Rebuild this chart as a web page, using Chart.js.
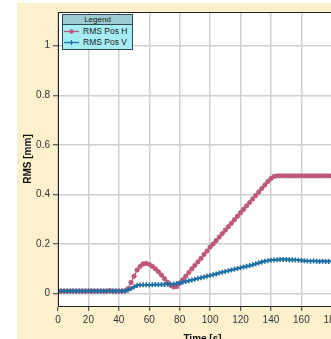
<!DOCTYPE html>
<html>
<head>
<meta charset="utf-8">
<script src="https://cdn.jsdelivr.net/npm/chart.js@4"></script>
<style>
    html, body { margin: 0; padding: 0; background: #fff; overflow: hidden; width: 331px; height: 339px; }
    #wrap { position: absolute; left: 17px; top: 3px; width: 345px; height: 345px; background: #fdf0cd; }
    .legend { position: absolute; left: 62px; top: 14px; width: 69px; border: 1px solid #2d4c52; background: #a6edf3;
        font-family: "Liberation Sans", Arial, sans-serif; color: #1a1a1a; }
    .legend .title { height: 9px; line-height: 9px; font-size: 8px; text-align: center; background: #9ccbd1; border-bottom: 1px solid #2d4c52; }
    .legend .row { height: 11px; line-height: 11px; font-size: 8.5px; white-space: nowrap; }
    .legend svg { vertical-align: middle; margin: 0 4px 0 1px; }
    .legend .rows { padding: 1px 0 1px 0; }
</style>
</head>
<body>
<div id="wrap"><canvas id="rms-chart" width="345" height="345"></canvas></div>
<div class="legend">
    <div class="title">Legend</div>
    <div class="rows">
        <div class="row"><svg width="15" height="7"><line x1="0" y1="3.5" x2="15" y2="3.5" stroke="#bd5878" stroke-width="1.3"/><circle cx="7.5" cy="3.5" r="2.2" fill="#bd5878"/></svg>RMS Pos H</div>
        <div class="row"><svg width="15" height="7"><line x1="0" y1="3.5" x2="15" y2="3.5" stroke="#1d6ea3" stroke-width="1.3"/><line x1="7.5" y1="1" x2="7.5" y2="6" stroke="#1d6ea3" stroke-width="1.3"/></svg>RMS Pos V</div>
    </div>
</div>
<script>
const times = [0, 2, 4, 6, 8, 10, 12, 14, 16, 18, 20, 22, 24, 26, 28, 30, 32, 34, 36, 38,
    40, 42, 44, 46, 48, 50, 52, 54, 56, 58, 60, 62, 64, 66, 68, 70, 72, 74, 76, 78,
    80, 82, 84, 86, 88, 90, 92, 94, 96, 98, 100, 102, 104, 106, 108, 110, 112, 114, 116, 118,
    120, 122, 124, 126, 128, 130, 132, 134, 136, 138, 140, 142, 144, 146, 148, 150, 152, 154, 156, 158,
    160, 162, 164, 166, 168, 170, 172, 174, 176, 178, 180, 182, 184, 186, 188, 190];

const rmsPosH = [0.01, 0.01, 0.01, 0.01, 0.01, 0.01, 0.01, 0.01, 0.01, 0.01, 0.01, 0.01, 0.01, 0.01, 0.01, 0.01, 0.01, 0.012, 0.01, 0.01,
    0.01, 0.01, 0.011, 0.02, 0.045, 0.07, 0.095, 0.11, 0.12, 0.122, 0.118, 0.11, 0.1, 0.088, 0.075, 0.06, 0.046, 0.034, 0.027, 0.028,
    0.042, 0.056, 0.07, 0.085, 0.1, 0.114, 0.128, 0.142, 0.158, 0.172, 0.188, 0.2, 0.214, 0.228, 0.242, 0.256, 0.27, 0.284, 0.298, 0.312,
    0.326, 0.34, 0.354, 0.368, 0.382, 0.396, 0.41, 0.424, 0.438, 0.452, 0.464, 0.473, 0.475, 0.475, 0.475, 0.475, 0.475, 0.475, 0.475, 0.475,
    0.475, 0.475, 0.475, 0.475, 0.475, 0.475, 0.475, 0.475, 0.475, 0.475, 0.475, 0.475, 0.475, 0.475, 0.475, 0.475];

const rmsPosV = [0.011, 0.011, 0.011, 0.011, 0.011, 0.011, 0.011, 0.011, 0.011, 0.011, 0.011, 0.011, 0.011, 0.011, 0.011, 0.011, 0.011, 0.011, 0.011, 0.011,
    0.011, 0.011, 0.011, 0.014, 0.02, 0.027, 0.033, 0.035, 0.036, 0.036, 0.035, 0.036, 0.037, 0.036, 0.037, 0.037, 0.038, 0.038, 0.039, 0.041,
    0.043, 0.046, 0.049, 0.052, 0.055, 0.058, 0.061, 0.064, 0.067, 0.07, 0.073, 0.076, 0.079, 0.083, 0.086, 0.089, 0.092, 0.095, 0.098, 0.101,
    0.104, 0.107, 0.11, 0.113, 0.116, 0.12, 0.124, 0.128, 0.131, 0.133, 0.135, 0.136, 0.137, 0.138, 0.138, 0.138, 0.137, 0.137, 0.136, 0.135,
    0.134, 0.133, 0.132, 0.131, 0.132, 0.131, 0.13, 0.131, 0.13, 0.13, 0.131, 0.13, 0.13, 0.131, 0.13, 0.13];

const xTicks = [0, 20, 40, 60, 80, 100, 120, 140, 160, 180];
const yTicks = [0, 0.2, 0.4, 0.6, 0.8, 1];

const pink = '#bd5878';
const blue = '#1d6ea3';
const fontFamily = '"Liberation Sans", Arial, sans-serif';

// white plot area + dark frame round it
const plotFrame = {
    id: 'plotFrame',
    beforeDraw(chart) {
        const a = chart.chartArea;
        chart.ctx.save();
        chart.ctx.fillStyle = '#fff';
        chart.ctx.fillRect(a.left, a.top, a.right - a.left, a.bottom - a.top);
        chart.ctx.restore();
    },
    afterDraw(chart) {
        const a = chart.chartArea;
        const ctx = chart.ctx;
        ctx.save();
        ctx.strokeStyle = '#222';
        ctx.lineWidth = 1;
        ctx.strokeRect(a.left + 0.5, a.top + 0.5, a.right - a.left, a.bottom - a.top);
        ctx.restore();
    }
};

const rmsChart = new Chart(document.getElementById('rms-chart'), {
    type: 'line',
    data: {
        datasets: [{
            label: 'RMS Pos H',
            data: times.map((t, i) => ({x: t, y: rmsPosH[i]})),
            borderColor: pink,
            backgroundColor: pink,
            borderWidth: 1.3,
            pointStyle: 'circle',
            pointRadius: 2.2,
            pointBorderWidth: 0.8,
            order: 2
        }, {
            label: 'RMS Pos V',
            data: times.map((t, i) => ({x: t, y: rmsPosV[i]})),
            borderColor: blue,
            backgroundColor: blue,
            borderWidth: 1.5,
            pointStyle: 'cross',
            pointRadius: 2.5,
            pointBorderWidth: 1.6,
            order: 1
        }]
    },
    options: {
        responsive: false,
        animation: false,
        layout: { padding: { top: 7, right: 15, left: 0, bottom: 0 } },
        plugins: {
            legend: { display: false },
            tooltip: { enabled: false }
        },
        scales: {
            x: {
                type: 'linear',
                min: 0,
                max: 190,
                afterBuildTicks: s => { s.ticks = xTicks.map(v => ({value: v})); },
                afterFit: s => { s.height = 42; },
                ticks: { color: '#333', font: { family: fontFamily, size: 10 }, padding: 3, maxRotation: 0 },
                grid: { color: '#d0d0d0', lineWidth: 1.5, tickColor: '#333', tickLength: 5, tickWidth: 1 },
                border: { display: true, color: '#222', width: 1 },
                title: { display: true, text: 'Time [s]', color: '#111', font: { family: fontFamily, size: 10, weight: 'bold' }, padding: { top: 0, bottom: 3 } }
            },
            y: {
                min: -0.05,
                max: 1.136,
                afterBuildTicks: s => { s.ticks = yTicks.map(v => ({value: v})); },
                afterFit: s => { s.width = 41; },
                ticks: { color: '#333', font: { family: fontFamily, size: 10 }, padding: 3,
                    callback: v => String(Math.round(v * 10) / 10) },
                grid: { color: '#d0d0d0', lineWidth: 1.5, tickColor: '#333', tickLength: 5, tickWidth: 1 },
                border: { display: true, color: '#222', width: 1 },
                title: { display: true, text: 'RMS [mm]', color: '#111', font: { family: fontFamily, size: 10, weight: 'bold' }, padding: { top: 5, bottom: 0 } }
            }
        }
    },
    plugins: [plotFrame]
});
</script>
</body>
</html>
